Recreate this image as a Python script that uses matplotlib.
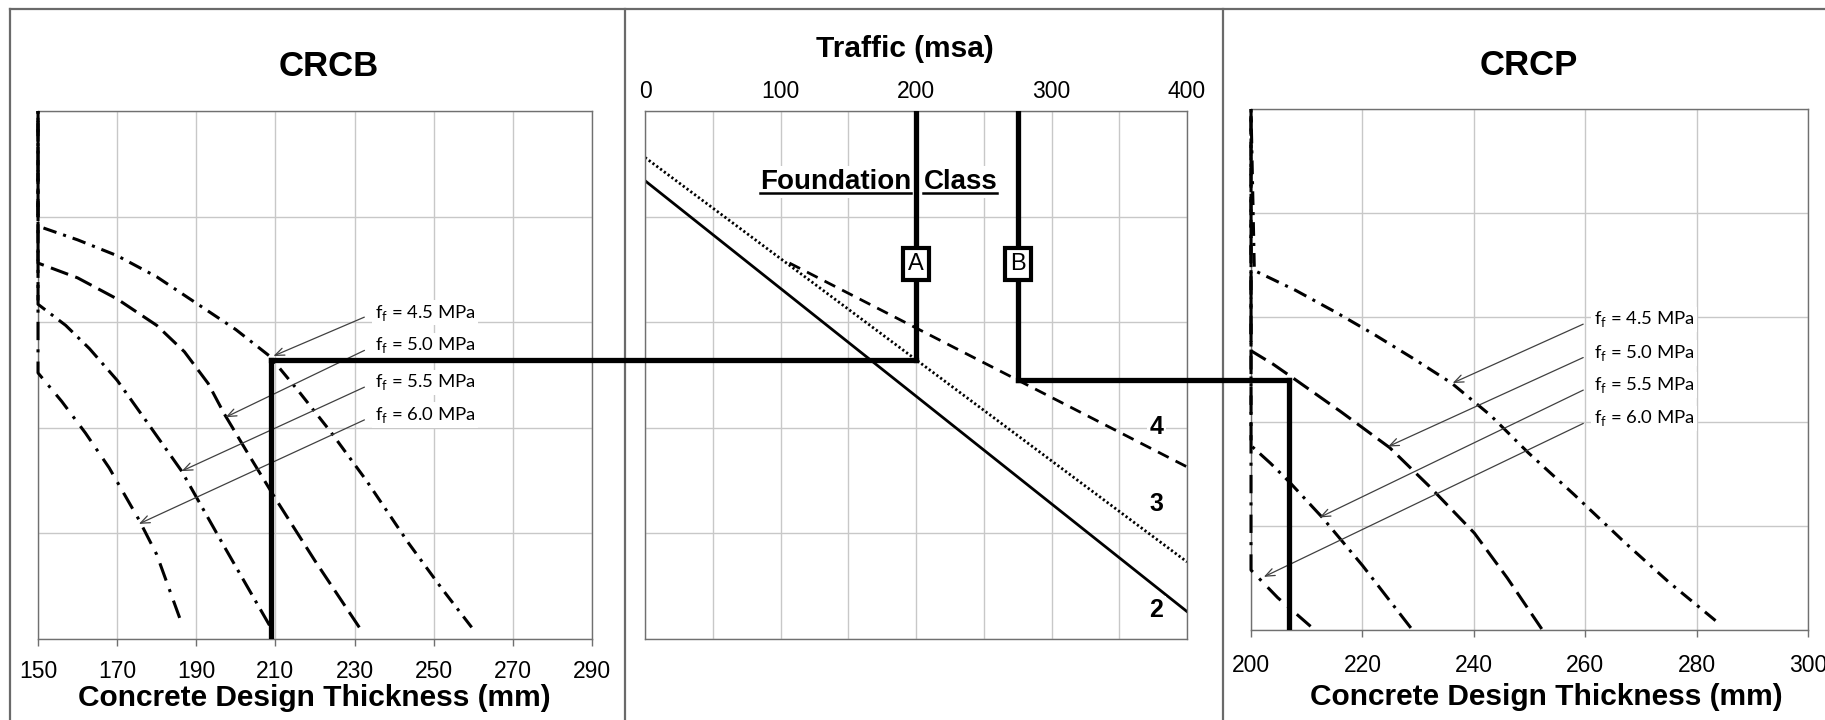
import matplotlib
matplotlib.use('Agg')
import matplotlib.pyplot as plt
from matplotlib.lines import Line2D
import numpy as np

plt.rcParams['font.family'] = ['Liberation Sans', 'DejaVu Sans']
plt.rcParams['mathtext.fontset'] = 'custom'
plt.rcParams['mathtext.rm'] = 'Lato'

# flexural strengths (MPa)
strengths = ['4.5', '5.0', '5.5', '6.0']

# CRCB design curves: thickness (mm) vs design level (unlabelled axis, 0-5)
crcb_45_x = [150, 150, 160, 170, 180, 190, 200, 208.5, 216, 224, 233, 243.6, 252, 259.6]
crcb_45_y = [5, 3.91, 3.78, 3.63, 3.43, 3.18, 2.93, 2.68, 2.34, 1.96, 1.50, 0.91, 0.48, 0.11]
crcb_50_x = [150, 150, 160, 170, 180, 187, 193, 197.1, 203, 210, 220, 231.2]
crcb_50_y = [5, 3.56, 3.42, 3.22, 2.97, 2.72, 2.42, 2.13, 1.76, 1.33, 0.74, 0.11]
crcb_55_x = [150, 150, 157, 163, 170, 178, 186.3, 197, 208.5]
crcb_55_y = [5, 3.17, 2.97, 2.75, 2.45, 2.03, 1.59, 0.88, 0.13]
crcb_60_x = [150, 150, 156, 162, 168, 175.5, 180, 185.8]
crcb_60_y = [5, 2.52, 2.25, 1.95, 1.62, 1.13, 0.80, 0.2]

# CRCP design curves
crcp_45_x = [200, 200.6, 208, 215.2, 222, 229, 236, 243, 249.8, 258, 267.1, 275, 283.4]
crcp_45_y = [5, 3.45, 3.26, 3.05, 2.84, 2.61, 2.37, 2.06, 1.70, 1.30, 0.84, 0.46, 0.09]
crcp_50_x = [200, 200, 204, 208.3, 216, 224.9, 232, 240.1, 246, 252.2]
crcp_50_y = [5, 2.68, 2.55, 2.39, 2.10, 1.75, 1.38, 0.93, 0.50, 0.01]
crcp_55_x = [200, 200, 203.5, 206.9, 212.8, 220, 228.7]
crcp_55_y = [5, 1.77, 1.60, 1.42, 1.08, 0.62, 0.02]
crcp_60_x = [200, 200, 204.8, 210.7]
crcp_60_y = [5, 0.575, 0.31, 0.035]

# foundation class lines: traffic (msa) vs design level
class_labels = ['4', '3', '2']
class2_x = [0, 400]
class2_y = [4.34, 0.26]
class3_x = [0, 400]
class3_y = [4.56, 0.73]
class4_x = [106.6, 400]
class4_y = [3.56, 1.63]

# worked examples A and B
traffic_A, level_A, crcb_thk = 200, 2.645, 209
traffic_B, level_B, crcp_thk = 275, 2.452, 206.9

# label anchor points on the curves
crcb_arrow_x = [209.5, 197.4, 186.3, 175.5]
crcb_arrow_y = [2.68, 2.10, 1.59, 1.09]
crcb_label_y = [3.09, 2.78, 2.43, 2.12]
crcp_arrow_x = [236.2, 224.6, 212.3, 202.3]
crcp_arrow_y = [2.37, 1.76, 1.08, 0.51]
crcp_label_y = [2.98, 2.66, 2.35, 2.03]

W, H = 1825, 720
fig = plt.figure(figsize=(W / 100, H / 100), dpi=100)


def box(l, t, r, b):
    return [l / W, 1 - b / H, (r - l) / W, (b - t) / H]


ax1 = fig.add_axes(box(38, 111, 592, 639))
ax2 = fig.add_axes(box(645, 111, 1187, 639))
ax3 = fig.add_axes(box(1251, 109, 1808, 630))

# outer frame and dividers
frame = '#6a6a6a'
fig.add_artist(Line2D([10 / W, 10 / W], [0, 1 - 9 / H], color=frame, lw=1.6))
fig.add_artist(Line2D([10 / W, 1], [1 - 9 / H, 1 - 9 / H], color=frame, lw=1.6))
for xd in (625, 1223):
    fig.add_artist(Line2D([xd / W, xd / W], [0, 1 - 9 / H], color=frame, lw=1.6))

for ax in (ax1, ax2, ax3):
    ax.set_ylim(0, 5)
    ax.set_yticks(np.arange(0, 6, 1))
    ax.tick_params(axis='y', length=0, labelleft=False)
    ax.grid(True, which='both', color='#c8c8c8', lw=1.0)
    ax.set_axisbelow(True)
    for s in ax.spines.values():
        s.set_color('#707070')
        s.set_linewidth(1.0)

ax1.set_xlim(150, 290)
ax1.set_xticks(np.arange(150, 291, 20))
ax1.tick_params(axis='x', length=5, width=1, color='#707070', labelsize=16.5, pad=10)
ax3.set_xlim(200, 300)
ax3.set_xticks(np.arange(200, 301, 20))
ax3.tick_params(axis='x', length=5, width=1, color='#707070', labelsize=16.5, pad=12)

ax2.set_xlim(0, 400)
ax2.set_xticks(np.arange(0, 401, 100))
ax2.set_xticks(np.arange(0, 401, 50), minor=True)
ax2.xaxis.tick_top()
ax2.tick_params(axis='x', which='both', length=0, labelsize=16.5, pad=6)
ax2.xaxis.set_label_position('top')

# curves are drawn from their lower end so the dash patterns fall out of
# step along the shared vertical at minimum thickness
styles = [(0, (4.5, 2.3, 1, 2.3)), (0, (6, 2.5)), (0, (6, 2.3, 1, 2.3)), (0, (6, 3, 1, 3))]
crcb = [(crcb_45_x, crcb_45_y), (crcb_50_x, crcb_50_y), (crcb_55_x, crcb_55_y), (crcb_60_x, crcb_60_y)]
crcp = [(crcp_45_x, crcp_45_y), (crcp_50_x, crcp_50_y), (crcp_55_x, crcp_55_y), (crcp_60_x, crcp_60_y)]
for (cx, cy), st in zip(crcb, styles):
    ax1.plot(cx[::-1], cy[::-1], color='black', lw=2.2, linestyle=st,
             dash_capstyle='butt', clip_on=False, zorder=3)
for (cx, cy), st in zip(crcp, styles):
    ax3.plot(cx[::-1], cy[::-1], color='black', lw=2.2, linestyle=st,
             dash_capstyle='butt', clip_on=False, zorder=3)

lab_box = dict(boxstyle='square,pad=0.15', fc='white', ec='none')
arrow = dict(arrowstyle='->,head_length=0.5,head_width=0.2', color='#404040',
             lw=0.9, relpos=(0, 0.5), shrinkA=6, shrinkB=0)
for i, s in enumerate(strengths):
    txt = 'f$_\\mathrm{f}$ = ' + s + ' MPa'
    ax1.annotate(txt, xy=(crcb_arrow_x[i], crcb_arrow_y[i]), xytext=(235.1, crcb_label_y[i]),
                 ha='left', va='center', fontsize=13.3, fontfamily='Lato',
                 bbox=lab_box, arrowprops=arrow, zorder=4)
    ax3.annotate(txt, xy=(crcp_arrow_x[i], crcp_arrow_y[i]), xytext=(261.5, crcp_label_y[i]),
                 ha='left', va='center', fontsize=13.3, fontfamily='Lato',
                 bbox=lab_box, arrowprops=arrow, zorder=4)

ax2.plot(class2_x, class2_y, color='black', lw=2.0)
ax2.plot(class3_x, class3_y, color='black', lw=2.0, linestyle=(0, (0.8, 0.9)))
ax2.plot(class4_x, class4_y, color='black', lw=2.0, linestyle=(0, (4.3, 2.8)))
for lab, yy in zip(class_labels, [2.01, 1.28, 0.27]):
    ax2.text(377.2, yy, lab, fontsize=18, fontweight='bold', ha='center', va='center',
             bbox=dict(boxstyle='square,pad=0.1', fc='white', ec='none'), zorder=4)

# design path
thick = dict(color='black', lw=3.8, solid_capstyle='projecting', zorder=5)
ax1.plot([crcb_thk, crcb_thk], [0, level_A], **thick)
ax2.plot([traffic_A, traffic_A], [level_A, 5], **thick)
ax2.plot([traffic_B, traffic_B], [level_B, 5], **thick)
p_B = ax2.transData.transform((traffic_B, level_B))
level_B3 = ax3.transData.inverted().transform(p_B)[1]
ax3.plot([crcp_thk, crcp_thk], [0, level_B3], **thick)

to_fig = fig.transFigure.inverted()
pa = to_fig.transform(ax1.transData.transform((crcb_thk, level_A)))
pb = to_fig.transform(ax2.transData.transform((traffic_A, level_A)))
fig.add_artist(Line2D([pa[0], pb[0]], [pa[1], pb[1]], color='black', lw=3.8,
                      solid_capstyle='projecting'))
pa = to_fig.transform(p_B)
pb = to_fig.transform(ax3.transData.transform((crcp_thk, level_B3)))
fig.add_artist(Line2D([pa[0], pb[0]], [pa[1], pb[1]], color='black', lw=3.8,
                      solid_capstyle='projecting'))

for xx, lab in ((traffic_A, 'A'), (traffic_B, 'B')):
    ax2.text(xx, 3.55, lab, fontsize=17, ha='center', va='center', zorder=6,
             bbox=dict(boxstyle='square,pad=0.22', fc='white', ec='black', lw=3))

# Foundation Class heading (underlined)
fbox = dict(boxstyle='square,pad=0.1', fc='white', ec='none')
t1 = ax2.text(196.5, 4.33, 'Foundation', fontsize=20, fontweight='bold', ha='right',
              va='center', bbox=fbox, zorder=4)
t2 = ax2.text(205.5, 4.33, 'Class', fontsize=20, fontweight='bold', ha='left',
              va='center', bbox=fbox, zorder=4)

# titles and axis labels
ax1.text(0.5245, 1.085, 'CRCB', transform=ax1.transAxes, fontsize=25, fontweight='bold',
         ha='center', va='center')
ax3.text(0.499, 1.084, 'CRCP', transform=ax3.transAxes, fontsize=25, fontweight='bold',
         ha='center', va='center')
ax1.set_xlabel('Concrete Design Thickness (mm)', fontsize=21.5, fontweight='bold', va='center')
ax1.xaxis.set_label_coords(0.498, -0.1117)
ax3.set_xlabel('Concrete Design Thickness (mm)', fontsize=21.5, fontweight='bold', va='center')
ax3.xaxis.set_label_coords(0.53, -0.1286)
ax2.set_xlabel('Traffic (msa)', fontsize=21.5, fontweight='bold', va='center')
ax2.xaxis.set_label_coords(0.479, 1.117)

fig.canvas.draw()
r = fig.canvas.get_renderer()
for t in (t1, t2):
    bb = t.get_window_extent(r)
    yy = bb.y0 + 2
    p0 = to_fig.transform((bb.x0, yy))
    p1 = to_fig.transform((bb.x1, yy))
    fig.add_artist(Line2D([p0[0], p1[0]], [p0[1], p1[1]], color='black', lw=1.8))

fig.savefig('out.png', dpi=100, facecolor='white')
